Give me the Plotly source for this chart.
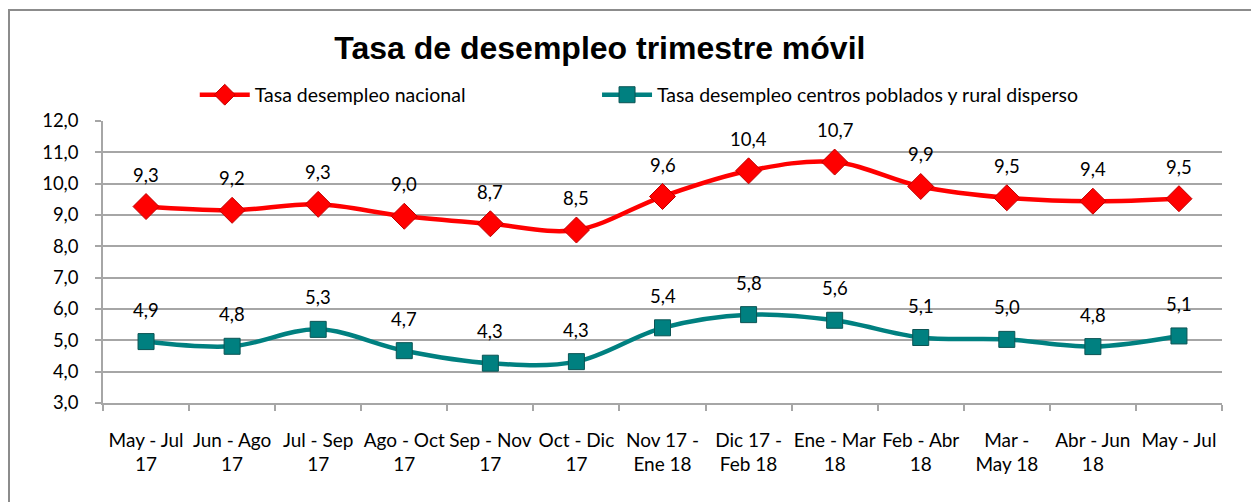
import plotly.graph_objects as go

categories = ["May - Jul<br>17", "Jun - Ago<br>17", "Jul - Sep<br>17", "Ago - Oct<br>17",
              "Sep - Nov<br>17", "Oct - Dic<br>17", "Nov 17 -<br>Ene 18", "Dic 17 -<br>Feb 18",
              "Ene - Mar<br>18", "Feb - Abr<br>18", "Mar -<br>May 18", "Abr - Jun<br>18", "May - Jul"]
nacional = [9.27, 9.15, 9.34, 8.96, 8.72, 8.52, 9.59, 10.41, 10.69, 9.91, 9.55, 9.44, 9.52]
nacional_labels = ["9,3", "9,2", "9,3", "9,0", "8,7", "8,5", "9,6", "10,4", "10,7", "9,9", "9,5", "9,4", "9,5"]
rural = [4.96, 4.81, 5.35, 4.67, 4.27, 4.32, 5.40, 5.82, 5.64, 5.09, 5.03, 4.80, 5.14]
rural_labels = ["4,9", "4,8", "5,3", "4,7", "4,3", "4,3", "5,4", "5,8", "5,6", "5,1", "5,0", "4,8", "5,1"]

font_main = "Lato, Carlito, Calibri, 'Open Sans', sans-serif"

fig = go.Figure()
fig.add_trace(go.Scatter(
    x=categories, y=nacional, name="Tasa desempleo nacional",
    mode="lines+markers", legend="legend",
    line=dict(color="#FF0000", width=4.5, shape="spline", smoothing=1),
    marker=dict(symbol="diamond", size=20, color="#FF0000", line=dict(color="#C00000", width=1)),
))
fig.add_trace(go.Scatter(
    x=categories, y=rural, name="Tasa desempleo centros poblados y rural disperso",
    mode="lines+markers", legend="legend2",
    line=dict(color="#008080", width=4.5, shape="spline", smoothing=1),
    marker=dict(symbol="square", size=16, color="#008080", line=dict(color="#0B5454", width=1)),
))

for xs, ys, labs in [(categories, nacional, nacional_labels), (categories, rural, rural_labels)]:
    for c, v, t in zip(xs, ys, labs):
        fig.add_annotation(x=c, y=v, text=t, showarrow=False, yshift=32,
                           font=dict(size=18.5, color="#000000", family=font_main))

# outer chart border
fig.add_shape(type="rect", xref="paper", yref="paper",
              x0=-0.084, x1=1.0313, y0=-0.40, y1=1.3936,
              line=dict(color="#8C8C8C", width=2), fillcolor="rgba(0,0,0,0)", layer="below")

legend_common = dict(orientation="h", xanchor="left", yref="paper", yanchor="middle",
                     font=dict(size=19.5, family=font_main), bgcolor="rgba(0,0,0,0)", itemwidth=50)

fig.update_layout(
    width=1259, height=502,
    margin=dict(l=95, r=45, t=113, b=107, autoexpand=False),
    paper_bgcolor="white", plot_bgcolor="white",
    separators=",.",
    font=dict(family=font_main, size=18, color="#000000"),
    title=dict(text="<b>Tasa de desempleo trimestre móvil</b>",
               font=dict(family="Liberation Sans, Arial, sans-serif", size=32, color="#000000"),
               x=0.444, xref="paper", xanchor="center", y=0.92, yref="container", yanchor="middle"),
    legend=dict(x=0.082, y=1.092, **legend_common),
    legend2=dict(x=0.4415, y=1.092, **legend_common),
    showlegend=True,
)
fig.update_yaxes(range=[3, 12], dtick=1, tickformat=".1f", showgrid=True,
                 gridcolor="#A6A6A6", gridwidth=1.5, showline=True, linecolor="#A6A6A6", linewidth=1.5,
                 ticks="outside", ticklen=6, tickcolor="#A6A6A6", tickwidth=1.5,
                 tickfont=dict(size=18.5), ticklabelstandoff=13, zeroline=False, automargin=False)
fig.update_xaxes(type="category", showgrid=False, showline=True, linecolor="#A6A6A6", linewidth=1.5,
                 ticks="outside", tickson="boundaries", ticklen=6, tickcolor="#A6A6A6", tickwidth=1.5,
                 tickfont=dict(size=19), ticklabelstandoff=19, tickangle=0, automargin=False,
                 range=[-0.5, 12.5])

fig.write_html("out.html")
